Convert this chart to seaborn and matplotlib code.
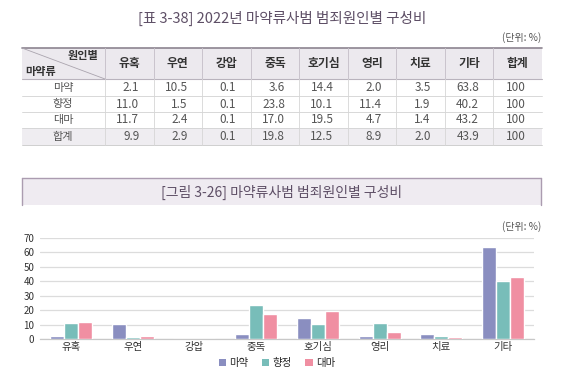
import matplotlib
matplotlib.use("Agg")
import matplotlib.pyplot as plt
from matplotlib.patches import Rectangle, Patch
from matplotlib.lines import Line2D
import seaborn as sns
import pandas as pd

# ---------------- data ----------------
causes = ["유혹", "우연", "강압", "중독", "호기심", "영리", "치료", "기타"]
drugs = ["마약", "향정", "대마"]
val_mayak = [2.1, 10.5, 0.1, 3.6, 14.4, 2.0, 3.5, 63.8]
val_hyang = [11.0, 1.5, 0.1, 23.8, 10.1, 11.4, 1.9, 40.2]
val_daema = [11.7, 2.4, 0.1, 17.0, 19.5, 4.7, 1.4, 43.2]
val_total = [9.9, 2.9, 0.1, 19.8, 12.5, 8.9, 2.0, 43.9]
row_sum = [100, 100, 100, 100]
table_title = "[표 3-38] 2022년 마약류사범 범죄원인별 구성비"
chart_title = "[그림 3-26] 마약류사범 범죄원인별 구성비"
unit_text = "(단위: %)"
y_ticks = [0, 10, 20, 30, 40, 50, 60, 70]

colors = ["#8a8ec0", "#78bdb9", "#f08fa2"]

sns.set_theme(style="white")
plt.rcParams["font.family"] = ["Noto Sans CJK KR", "DejaVu Sans"]

W, H = 570, 374
fig = plt.figure(figsize=(W / 100, H / 100), dpi=100)
fig.patch.set_facecolor("white")

def fx(x):
    return x / W

def fy(y):
    return 1 - y / H

title_col = "#5e4f66"

# ---------------- table ----------------
fig.text(fx(282), fy(18), table_title, ha="center", va="center", fontsize=10.5, color=title_col)
fig.text(fx(541), fy(38), unit_text, ha="right", va="center", fontsize=7.2, color="#555555")

x_edges = [22, 105] + [105 + 48.55 * i for i in range(1, 10)]
y_edges = [48, 79, 96, 112, 128, 145]

fig.patches.append(Rectangle((fx(22), fy(79)), fx(541 - 22 + 1), (79 - 48) / H,
                             transform=fig.transFigure, facecolor="#ece9ee", edgecolor="none", zorder=0))
fig.patches.append(Rectangle((fx(22), fy(145)), fx(541 - 22 + 1), (145 - 128) / H,
                             transform=fig.transFigure, facecolor="#efedf1", edgecolor="none", zorder=0))

def hline(y, x0, x1, color, lw):
    fig.add_artist(Line2D([fx(x0), fx(x1)], [fy(y), fy(y)], transform=fig.transFigure, color=color, lw=lw))

def vline(x, y0, y1, color, lw):
    fig.add_artist(Line2D([fx(x), fx(x)], [fy(y0), fy(y1)], transform=fig.transFigure, color=color, lw=lw))

hline(48, 22, 542, "#8c8490", 1.2)
hline(79, 22, 542, "#b9b3bd", 0.8)
for y in y_edges[2:-1]:
    hline(y, 22, 542, "#d2d2d2", 0.6)
hline(145, 22, 542, "#c8c8c8", 0.6)
for x in x_edges[1:-1]:
    vline(x, 48, 79, "#c9c3cc", 0.7)
    vline(x, 79, 145, "#d6d6d6", 0.6)
fig.add_artist(Line2D([fx(22), fx(105)], [fy(48), fy(79)], transform=fig.transFigure, color="#aaa4ae", lw=0.6))
fig.text(fx(98), fy(56), "원인별", ha="right", va="center", fontsize=8, color="#333333", fontweight="bold")
fig.text(fx(25), fy(72), "마약류", ha="left", va="center", fontsize=8, color="#333333", fontweight="bold")

headers = causes + ["합계"]
centers = [(x_edges[i] + x_edges[i + 1]) / 2 for i in range(1, 10)]
for c, h in zip(centers, headers):
    fig.text(fx(c), fy(63.5), h, ha="center", va="center", fontsize=8.5, color="#333333", fontweight="bold")

row_names = drugs + ["합계"]
rows = [val_mayak, val_hyang, val_daema, val_total]
for r, (name, vals) in enumerate(zip(row_names, rows)):
    yc = (y_edges[r + 1] + y_edges[r + 2]) / 2
    fig.text(fx(63), fy(yc), name, ha="center", va="center", fontsize=8, color="#555555")
    for c, v in zip(centers[:8], vals):
        fig.text(fx(c + 10), fy(yc), f"{v:.1f}", ha="right", va="center", fontsize=8.5, color="#555555")
    fig.text(fx(centers[8] + 8), fy(yc), str(row_sum[r]), ha="right", va="center", fontsize=8.5, color="#555555")

# ---------------- chart title box ----------------
fig.patches.append(Rectangle((fx(22), fy(205)), fx(541 - 22), (205 - 178) / H,
                             transform=fig.transFigure, facecolor="#efebf1", edgecolor="none", zorder=0))
hline(178, 22, 541, "#ab9cb0", 1.0)
vline(22, 178, 205, "#ab9cb0", 1.0)
vline(541, 178, 205, "#ab9cb0", 1.0)
fig.text(fx(282), fy(192), chart_title, ha="center", va="center", fontsize=10, color=title_col)

fig.text(fx(541), fy(227), unit_text, ha="right", va="center", fontsize=7.2, color="#555555")

# ---------------- bar chart ----------------
df = pd.DataFrame({
    "cause": causes * 3,
    "drug": [drugs[0]] * 8 + [drugs[1]] * 8 + [drugs[2]] * 8,
    "value": val_mayak + val_hyang + val_daema,
})

ax = fig.add_axes([fx(40), fy(339), (534 - 40) / W, (339 - 238) / H])
sns.barplot(data=df, x="cause", y="value", hue="drug", order=causes, hue_order=drugs,
            palette=colors, width=0.68, saturation=1, ax=ax, zorder=3)
ax.set_ylim(0, 70)
ax.set_xlim(-0.5, 7.5)
ax.set_yticks(y_ticks)
ax.set_yticklabels([str(t) for t in y_ticks], fontsize=7, color="#333333")
ax.tick_params(axis="x", labelsize=7.5, colors="#333333", pad=2, length=0)
ax.tick_params(axis="y", length=0, pad=4)
ax.set_xlabel("")
ax.set_ylabel("")
ax.yaxis.grid(True, color="#dcdcdc", lw=0.9)
ax.set_axisbelow(True)
for s in ["top", "right", "left"]:
    ax.spines[s].set_visible(False)
ax.spines["bottom"].set_color("#c8c8c8")
ax.spines["bottom"].set_linewidth(0.9)
ax.set_facecolor("white")

handles = [Patch(facecolor=c, edgecolor="none") for c in colors]
ax.legend(handles, drugs, loc="center", bbox_to_anchor=((277 - 40) / (534 - 40), -(363 - 339) / (339 - 238)),
          ncol=3, frameon=False, fontsize=7.5, handlelength=0.7, handleheight=0.7,
          columnspacing=1.3, handletextpad=0.3, borderaxespad=0)

fig.savefig("out.png", dpi=100, facecolor="white")
